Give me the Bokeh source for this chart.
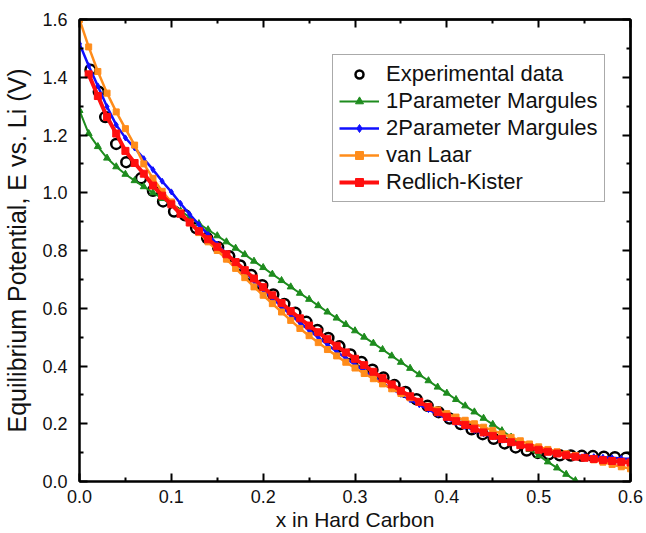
from bokeh.plotting import figure
from bokeh.models import (Range1d, LinearAxis, FixedTicker, Legend, LegendItem,
                          PrintfTickFormatter)
from bokeh.embed import file_html
from bokeh.resources import INLINE

# ---------------- data ----------------
exp_x = [0.012, 0.021, 0.028, 0.040, 0.051, 0.067, 0.080, 0.091, 0.103,
         0.115, 0.127, 0.139, 0.151, 0.163, 0.175, 0.187, 0.199, 0.211, 0.223,
         0.235, 0.247, 0.259, 0.271, 0.283, 0.295, 0.307, 0.319, 0.331, 0.343,
         0.355, 0.367, 0.379, 0.391, 0.403, 0.415, 0.427, 0.439, 0.451, 0.463,
         0.475, 0.487, 0.499, 0.511, 0.523, 0.535, 0.547, 0.559, 0.571, 0.583, 0.595]
exp_y = [1.426, 1.350, 1.262, 1.169, 1.106, 1.050, 1.007, 0.970, 0.935,
         0.922, 0.878, 0.843, 0.811, 0.780, 0.748, 0.715, 0.680, 0.648, 0.615,
         0.584, 0.553, 0.525, 0.497, 0.468, 0.440, 0.414, 0.387, 0.360, 0.334,
         0.310, 0.285, 0.262, 0.240, 0.218, 0.199, 0.181, 0.164, 0.148, 0.132,
         0.118, 0.107, 0.099, 0.094, 0.091, 0.090, 0.089, 0.088, 0.086, 0.084, 0.082]

model_x = [0.00, 0.01, 0.02, 0.03, 0.04, 0.05, 0.06, 0.07, 0.08, 0.09,
           0.10, 0.11, 0.12, 0.13, 0.14, 0.15, 0.16, 0.17, 0.18, 0.19,
           0.20, 0.21, 0.22, 0.23, 0.24, 0.25, 0.26, 0.27, 0.28, 0.29,
           0.30, 0.31, 0.32, 0.33, 0.34, 0.35, 0.36, 0.37, 0.38, 0.39,
           0.40, 0.41, 0.42, 0.43, 0.44, 0.45, 0.46, 0.47, 0.48, 0.49,
           0.50, 0.51, 0.52, 0.53, 0.54, 0.55, 0.56, 0.57, 0.58, 0.59, 0.60]

margules1_y = [1.285, 1.205, 1.160, 1.120, 1.090, 1.064, 1.042, 1.021, 1.000, 0.980,
               0.959, 0.937, 0.915, 0.893, 0.872, 0.851, 0.830, 0.808, 0.786, 0.763,
               0.741, 0.718, 0.696, 0.674, 0.652, 0.631, 0.609, 0.587, 0.566, 0.544,
               0.522, 0.500, 0.479, 0.457, 0.435, 0.413, 0.392, 0.370, 0.349, 0.327,
               0.306, 0.284, 0.262, 0.241, 0.219, 0.198, 0.176, 0.154, 0.133, 0.111,
               0.090, 0.068, 0.047, 0.025, 0.003]

margules2_y = [1.516, 1.440, 1.370, 1.298, 1.235, 1.190, 1.155, 1.118, 1.080, 1.040,
               1.003, 0.963, 0.925, 0.890, 0.855, 0.822, 0.790, 0.757, 0.726, 0.695,
               0.665, 0.635, 0.606, 0.577, 0.550, 0.524, 0.499, 0.474, 0.450, 0.427,
               0.404, 0.383, 0.361, 0.341, 0.321, 0.302, 0.283, 0.266, 0.249, 0.233,
               0.218, 0.204, 0.190, 0.177, 0.165, 0.154, 0.143, 0.134, 0.125, 0.117,
               0.110, 0.104, 0.099, 0.095, 0.091, 0.088, 0.086, 0.084, 0.082, 0.080, 0.079]

vanlaar_y = [1.600, 1.505, 1.420, 1.345, 1.280, 1.222, 1.165, 1.100, 1.050, 1.005,
             0.968, 0.932, 0.896, 0.862, 0.830, 0.800, 0.770, 0.738, 0.706, 0.674,
             0.645, 0.616, 0.587, 0.558, 0.530, 0.505, 0.481, 0.457, 0.435, 0.413,
             0.393, 0.374, 0.356, 0.338, 0.321, 0.305, 0.290, 0.275, 0.261, 0.248,
             0.235, 0.223, 0.212, 0.200, 0.188, 0.177, 0.165, 0.153, 0.141, 0.130,
             0.120, 0.111, 0.103, 0.096, 0.090, 0.083, 0.075, 0.067, 0.059, 0.051, 0.044]

redlich_x = model_x[1:]
redlich_y = [1.410, 1.335, 1.262, 1.205, 1.145, 1.103, 1.066, 1.025, 0.990,
             0.960, 0.927, 0.897, 0.867, 0.839, 0.813, 0.787, 0.760, 0.732, 0.703,
             0.673, 0.645, 0.618, 0.590, 0.565, 0.540, 0.517, 0.493, 0.470, 0.447,
             0.425, 0.403, 0.380, 0.358, 0.336, 0.314, 0.295, 0.276, 0.258, 0.240,
             0.224, 0.209, 0.196, 0.183, 0.170, 0.158, 0.147, 0.136, 0.126, 0.118,
             0.110, 0.103, 0.097, 0.091, 0.086, 0.082, 0.078, 0.074, 0.071, 0.068, 0.066]

x_major = [0.0, 0.1, 0.2, 0.3, 0.4, 0.5, 0.6]
x_minor = [0.05, 0.15, 0.25, 0.35, 0.45, 0.55]
y_major = [0.0, 0.2, 0.4, 0.6, 0.8, 1.0, 1.2, 1.4, 1.6]
y_minor = [0.1, 0.3, 0.5, 0.7, 0.9, 1.1, 1.3, 1.5]

GREEN = "#1e8c1e"
BLUE = "#1010ff"
ORANGE = "#ff8c1a"
RED = "#ff0f0f"
FONT = "Liberation Sans"

p = figure(width=646, height=533, x_range=Range1d(0, 0.6), y_range=Range1d(0, 1.6),
           output_backend="svg", toolbar_location=None,
           min_border_left=79, min_border_right=16, min_border_top=19, min_border_bottom=52)
p.xgrid.visible = False
p.ygrid.visible = False
p.outline_line_color = "black"
p.outline_line_width = 2
p.background_fill_color = "white"


def base_style(ax):
    ax.axis_line_width = 2
    ax.axis_line_color = "black"
    ax.major_tick_in = 8
    ax.major_tick_out = 0
    ax.minor_tick_in = 4
    ax.minor_tick_out = 0
    ax.major_tick_line_width = 2
    ax.minor_tick_line_width = 2
    ax.major_tick_line_color = "black"
    ax.minor_tick_line_color = "black"


xa = p.xaxis[0]
ya = p.yaxis[0]
xa.ticker = FixedTicker(ticks=x_major, minor_ticks=x_minor)
ya.ticker = FixedTicker(ticks=y_major, minor_ticks=y_minor)
for ax in (xa, ya):
    base_style(ax)
    ax.formatter = PrintfTickFormatter(format="%.1f")
    ax.major_label_text_font = FONT
    ax.major_label_text_font_size = "18px"
    ax.major_label_text_color = "#111111"
    ax.axis_label_text_font = FONT
    ax.axis_label_text_font_style = "normal"
    ax.axis_label_text_color = "#111111"
xa.axis_label = "x in Hard Carbon"
ya.axis_label = "Equilibrium Potential, E vs. Li (V)"
xa.axis_label_text_font_size = "21px"
ya.axis_label_text_font_size = "25px"
xa.major_label_standoff = 8
xa.axis_label_standoff = 2
ya.major_label_standoff = 12
ya.axis_label_standoff = 8

# mirrored tick marks on top and right (no labels): one axis for the long
# ticks, one for the short ticks
for side, major, minor in (("above", x_major, x_minor), ("right", y_major, y_minor)):
    for positions, length in ((major, 8), (minor, 4)):
        ax = LinearAxis(ticker=FixedTicker(ticks=[], minor_ticks=positions))
        base_style(ax)
        ax.minor_tick_in = length
        ax.major_label_standoff = 0
        ax.axis_label_standoff = 0
        p.add_layout(ax, side)

# ---------------- series ----------------
r_exp = p.scatter(exp_x, exp_y, marker="circle", size=10, fill_color=None,
                  line_color="black", line_width=2.5)

g_line = p.line(model_x[:len(margules1_y)], margules1_y, line_color=GREEN, line_width=2)
g_pts = p.scatter(model_x[:len(margules1_y)], margules1_y, marker="triangle", size=7,
                  fill_color=GREEN, line_color=GREEN)

b_line = p.line(model_x, margules2_y, line_color=BLUE, line_width=2.5)
b_pts = p.scatter(model_x, margules2_y, marker="diamond", size=6,
                  fill_color=BLUE, line_color=BLUE)

o_line = p.line(model_x, vanlaar_y, line_color=ORANGE, line_width=2.5)
o_pts = p.scatter(model_x, vanlaar_y, marker="square", size=6,
                  fill_color=ORANGE, line_color=ORANGE)

r_line = p.line(redlich_x, redlich_y, line_color=RED, line_width=4)
r_pts = p.scatter(redlich_x, redlich_y, marker="square", size=7,
                  fill_color=RED, line_color=RED)

legend = Legend(items=[
    LegendItem(label="Experimental data", renderers=[r_exp]),
    LegendItem(label="1Parameter Margules", renderers=[g_line, g_pts]),
    LegendItem(label="2Parameter Margules", renderers=[b_line, b_pts]),
    LegendItem(label="van Laar", renderers=[o_line, o_pts]),
    LegendItem(label="Redlich-Kister", renderers=[r_line, r_pts]),
], location=(253, 279))
legend.label_text_font = FONT
legend.label_text_font_size = "22px"
legend.label_text_color = "#111111"
legend.glyph_width = 40
legend.glyph_height = 20
legend.label_height = 20
legend.label_standoff = 7
legend.spacing = 1
legend.padding = 6
legend.margin = 0
legend.border_line_color = "#555555"
legend.border_line_width = 1.5
legend.background_fill_alpha = 1.0
p.add_layout(legend)

html = file_html(p, INLINE)
open("out.html", "w").write(html)
